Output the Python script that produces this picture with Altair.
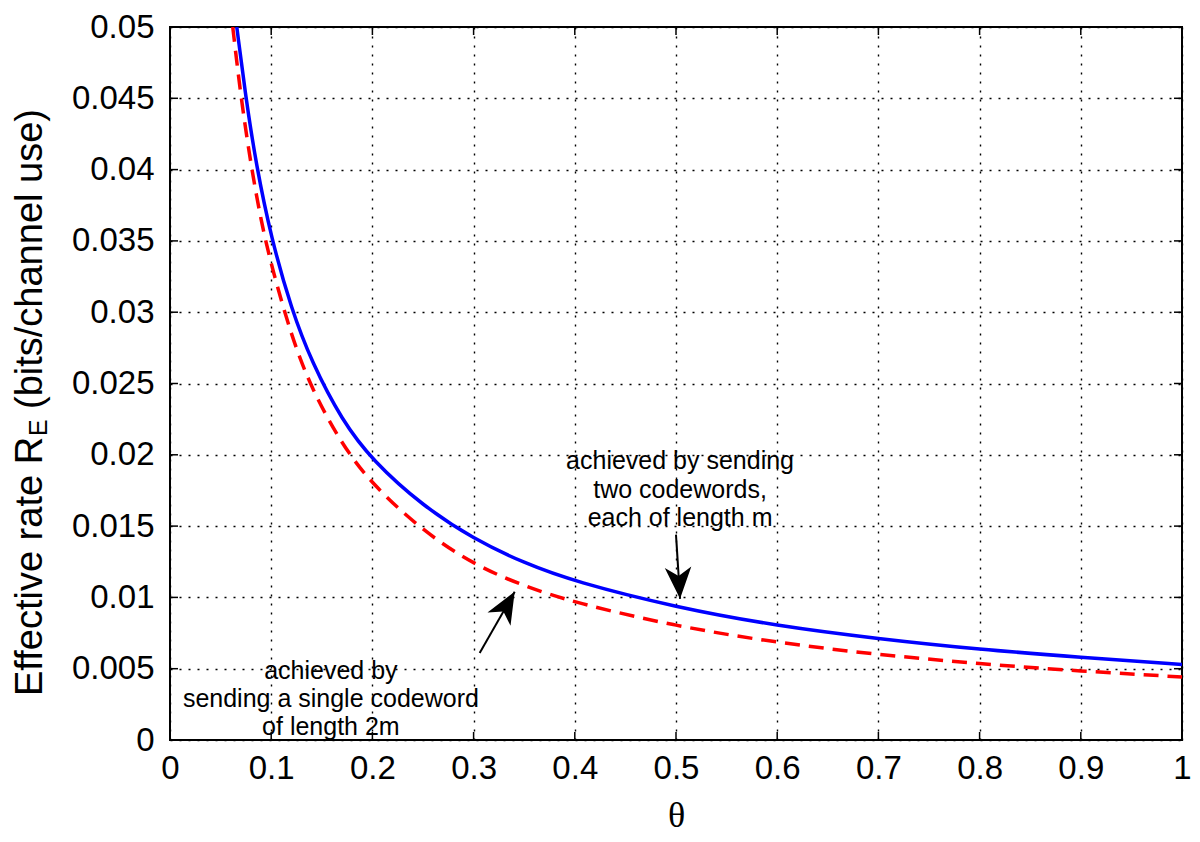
import math
import altair as alt
import pandas as pd

# ---- data ----
blue_theta = [0.066, 0.075, 0.085, 0.1, 0.12, 0.14, 0.17, 0.2, 0.25, 0.3, 0.35, 0.4, 0.5, 0.6, 0.7, 0.8, 0.9, 1.0]
blue_rate = [0.0500, 0.0450, 0.0404, 0.0352, 0.0302, 0.0265, 0.0224, 0.0196, 0.0164, 0.0141, 0.0124, 0.0111,
             0.0093, 0.0080, 0.0071, 0.00635, 0.0058, 0.0053]

red_theta = [0.062, 0.07, 0.08, 0.09, 0.1, 0.12, 0.14, 0.17, 0.2, 0.25, 0.3, 0.35, 0.4, 0.5, 0.6, 0.7, 0.8, 0.9, 1.0]
red_rate = [0.0500, 0.0451, 0.0403, 0.0364, 0.0333, 0.0283, 0.0246, 0.0207, 0.0179, 0.01465, 0.0123, 0.01078,
            0.00963, 0.00797, 0.00682, 0.00598, 0.00534, 0.00483, 0.00442]

x_ticks = [0, 0.1, 0.2, 0.3, 0.4, 0.5, 0.6, 0.7, 0.8, 0.9, 1.0]
y_ticks = [0, 0.005, 0.01, 0.015, 0.02, 0.025, 0.03, 0.035, 0.04, 0.045, 0.05]

# annotations
note_lines = ["achieved by sending", "two codewords,", "each of length m",
              "achieved by", "sending a single codeword", "of length 2m"]
note_theta = [0.504, 0.504, 0.504, 0.159, 0.159, 0.159]
note_rate = [0.0196, 0.01752, 0.01558, 0.00485, 0.00291, 0.0009]

arrow_x = [0.500, 0.306]
arrow_y = [0.0144, 0.0061]
arrow_x2 = [0.504, 0.3406]
arrow_y2 = [0.0099, 0.0104]

W, H = 1012, 713
X_MAX, Y_MAX = 1.0, 0.05

xscale = alt.Scale(domain=[0, X_MAX], nice=False, zero=False)
yscale = alt.Scale(domain=[0, Y_MAX], nice=False, zero=False)

blue_df = pd.DataFrame({"theta": blue_theta, "rate": blue_rate})
red_df = pd.DataFrame({"theta": red_theta, "rate": red_rate})

blue = alt.Chart(blue_df).mark_line(color="#0000ff", strokeWidth=3.5, clip=True, interpolate="basis").encode(
    x=alt.X("theta:Q", scale=xscale,
            axis=alt.Axis(values=x_ticks, title="θ", labelFlush=False,
                          labelExpr="format(datum.value, '.1~f')")),
    y=alt.Y("rate:Q", scale=yscale,
            axis=alt.Axis(values=y_ticks, title=None, labelFlush=False,
                          labelExpr="datum.value == 0 ? '0' : format(datum.value, '.3~f')")),
)
red = alt.Chart(red_df).mark_line(color="#ff0000", strokeWidth=3.5, strokeDash=[15, 9], clip=True,
                                  interpolate="basis").encode(
    x=alt.X("theta:Q", scale=xscale),
    y=alt.Y("rate:Q", scale=yscale),
)

# arrows
ang = []
for x1, y1, x2, y2 in zip(arrow_x, arrow_y, arrow_x2, arrow_y2):
    dx = (x2 - x1) / X_MAX * W
    dy = -(y2 - y1) / Y_MAX * H
    ang.append(math.degrees(math.atan2(dx, -dy)))
arrow_df = pd.DataFrame({"x": arrow_x, "y": arrow_y, "x2": arrow_x2, "y2": arrow_y2, "angle": ang})

arrow_lines = alt.Chart(arrow_df).mark_rule(color="black", strokeWidth=2).encode(
    x=alt.X("x:Q", scale=xscale), y=alt.Y("y:Q", scale=yscale), x2="x2:Q", y2="y2:Q")
arrow_heads = alt.Chart(arrow_df).mark_point(
    shape="M0,0 L0.42,1 L0,0.72 L-0.42,1 Z", size=4000, filled=True, color="black",
    opacity=1, strokeWidth=0).encode(
    x=alt.X("x2:Q", scale=xscale), y=alt.Y("y2:Q", scale=yscale),
    angle=alt.Angle("angle:Q", scale=None))

notes_df = pd.DataFrame({"text": note_lines, "x": note_theta, "y": note_rate})
notes = alt.Chart(notes_df).mark_text(font="Liberation Sans", fontSize=25, color="black",
                                      align="center", baseline="middle").encode(
    x=alt.X("x:Q", scale=xscale), y=alt.Y("y:Q", scale=yscale), text="text:N")

# inward tick marks on all four sides
xt_df = pd.DataFrame({"t": x_ticks})
yt_df = pd.DataFrame({"t": y_ticks})
tick_len = 8
xt_bottom = alt.Chart(xt_df).mark_rule(color="black", strokeWidth=1.5).encode(
    x=alt.X("t:Q", scale=xscale), y=alt.value(H), y2=alt.value(H - tick_len))
xt_top = alt.Chart(xt_df).mark_rule(color="black", strokeWidth=1.5).encode(
    x=alt.X("t:Q", scale=xscale), y=alt.value(0), y2=alt.value(tick_len))
yt_left = alt.Chart(yt_df).mark_rule(color="black", strokeWidth=1.5).encode(
    y=alt.Y("t:Q", scale=yscale), x=alt.value(0), x2=alt.value(tick_len))
yt_right = alt.Chart(yt_df).mark_rule(color="black", strokeWidth=1.5).encode(
    y=alt.Y("t:Q", scale=yscale), x=alt.value(W), x2=alt.value(W - tick_len))

# y axis title with subscript
TITLE_X = -128
title_parts = [
    ("Effective rate R", 38, TITLE_X, 669),
    ("E", 25, TITLE_X + 5, 409),
    ("(bits/channel use)", 38, TITLE_X, 382),
]
title_layers = []
for txt, fs, tx, ty in title_parts:
    title_layers.append(
        alt.Chart(pd.DataFrame({"t": [txt]})).mark_text(
            font="Liberation Sans", fontSize=fs, color="black", angle=270,
            align="left", baseline="alphabetic").encode(
            text="t:N", x=alt.value(tx), y=alt.value(ty)))

chart = alt.layer(
    blue, red, arrow_lines, arrow_heads, notes,
    xt_bottom, xt_top, yt_left, yt_right, *title_layers
).properties(
    width=W, height=H,
    autosize=alt.AutoSizeParams(type="none"),
    padding={"left": 162, "top": 19, "right": 10, "bottom": 100},
).configure_view(
    stroke="black", strokeWidth=2
).configure_axis(
    domain=False, ticks=False, grid=True, gridColor="black", gridDash=[2, 7],
    gridWidth=1.4, gridOpacity=1,
    labelFont="Liberation Sans", labelFontSize=33, labelColor="black",
    titleFont="Liberation Serif", titleFontSize=36, titleFontWeight="normal", titleColor="black",
).configure_axisX(
    labelPadding=12, titlePadding=13
).configure_axisY(
    labelPadding=16
)

chart.save("out.html", embed_options={"renderer": "svg", "actions": False})
